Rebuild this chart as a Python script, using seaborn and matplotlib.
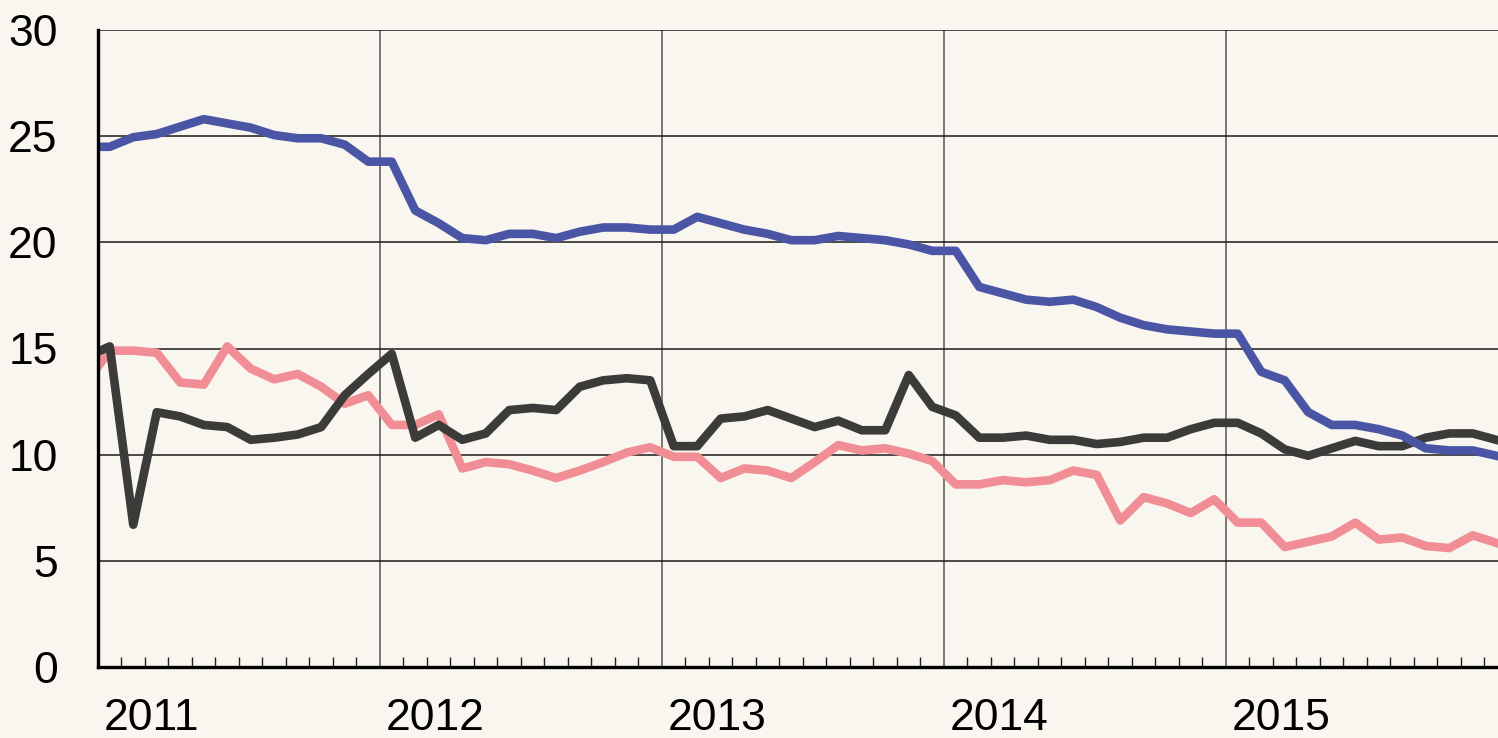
import numpy as np
import pandas as pd
import matplotlib.pyplot as plt
import matplotlib.transforms as mtrans
import seaborn as sns

# monthly values, Dec 2010 .. Dec 2015 (first point sits just left of the axis)
blue = [24.5,
        24.5, 24.95, 25.1, 25.45, 25.8, 25.6, 25.4, 25.05, 24.9, 24.9, 24.6, 23.8,
        23.8, 21.5, 20.9, 20.2, 20.1, 20.4, 20.4, 20.2, 20.5, 20.7, 20.7, 20.6,
        20.6, 21.2, 20.9, 20.6, 20.4, 20.1, 20.1, 20.3, 20.2, 20.1, 19.9, 19.6,
        19.6, 17.9, 17.6, 17.3, 17.2, 17.3, 16.95, 16.45, 16.1, 15.9, 15.8, 15.7,
        15.7, 13.9, 13.5, 12.0, 11.4, 11.4, 11.2, 10.9, 10.3, 10.2, 10.2, 9.95]
pink = [13.4,
        14.9, 14.9, 14.8, 13.4, 13.3, 15.1, 14.05, 13.55, 13.8, 13.2, 12.4, 12.8,
        11.4, 11.4, 11.9, 9.35, 9.65, 9.55, 9.25, 8.9, 9.25, 9.65, 10.1, 10.35,
        9.9, 9.9, 8.9, 9.35, 9.25, 8.9, 9.65, 10.45, 10.2, 10.3, 10.05, 9.7,
        8.6, 8.6, 8.8, 8.7, 8.8, 9.25, 9.05, 6.9, 8.0, 7.7, 7.25, 7.9,
        6.8, 6.8, 5.65, 5.9, 6.15, 6.8, 6.0, 6.1, 5.7, 5.6, 6.2, 5.85]
black = [14.6,
         15.1, 6.7, 12.0, 11.8, 11.4, 11.3, 10.7, 10.8, 10.95, 11.3, 12.8, 13.8,
         14.75, 10.8, 11.4, 10.7, 11.0, 12.1, 12.2, 12.1, 13.2, 13.5, 13.6, 13.5,
         10.4, 10.4, 11.7, 11.8, 12.1, 11.7, 11.3, 11.6, 11.15, 11.15, 13.75, 12.25,
         11.85, 10.8, 10.8, 10.9, 10.7, 10.7, 10.5, 10.6, 10.8, 10.8, 11.2, 11.5,
         11.5, 11.0, 10.25, 9.95, 10.3, 10.65, 10.4, 10.4, 10.8, 11.0, 11.0, 10.7]
years = ['2011', '2012', '2013', '2014', '2015']

# x in months from Jan 2011, points at mid-month
months = np.arange(len(blue)) - 0.5
df = pd.concat([
    pd.DataFrame({'month': months, 'value': pink, 'series': 'pink'}),
    pd.DataFrame({'month': months, 'value': black, 'series': 'black'}),
    pd.DataFrame({'month': months, 'value': blue, 'series': 'blue'}),
])

bg = '#F9F5EF'
palette = {'pink': '#F18D95', 'black': '#3B3B39', 'blue': '#4B55A5'}

plt.rcParams['font.family'] = ['Liberation Sans', 'DejaVu Sans']
fig = plt.figure(figsize=(14.98, 7.38), dpi=100, facecolor=bg)
# axes runs a little past the right edge, like the cropped original
ax = fig.add_axes([98 / 1498, 71 / 738, 1410 / 1498, 637 / 738])
ax.set_facecolor(bg)

sns.lineplot(data=df, x='month', y='value', hue='series', palette=palette,
             hue_order=['pink', 'black', 'blue'], linewidth=6.2, legend=False,
             ax=ax, zorder=3)

ax.set_xlim(0, 60)
ax.set_ylim(0, 30)
ax.set_xlabel('')
ax.set_ylabel('')

ax.set_yticks(np.arange(0, 31, 5))
ax.tick_params(axis='y', length=0, pad=29, labelsize=32)
ax.grid(axis='y', color='#1a1a1a', linewidth=1.1)

# year labels sit just right of each year boundary
ax.set_xticks(np.arange(0, 60, 12))
ax.set_xticklabels(years)
ax.set_xticks(np.arange(0, 61, 1), minor=True)
ax.tick_params(axis='x', which='major', length=0, pad=22, labelsize=32)
ax.tick_params(axis='x', which='minor', direction='in', length=7, width=1, color='#222222')
offset = mtrans.ScaledTranslation(6 / 100, 0, fig.dpi_scale_trans)
for lab in ax.get_xticklabels():
    lab.set_horizontalalignment('left')
    lab.set_transform(lab.get_transform() + offset)
for x in range(12, 60, 12):
    ax.axvline(x, color='#555555', linewidth=1.1, zorder=1)

for side in ['top', 'right']:
    ax.spines[side].set_visible(False)
for side in ['left', 'bottom']:
    ax.spines[side].set_linewidth(2.4)
    ax.spines[side].set_color('black')
    ax.spines[side].set_zorder(4)

fig.savefig('out.png', dpi=100, facecolor=bg)
